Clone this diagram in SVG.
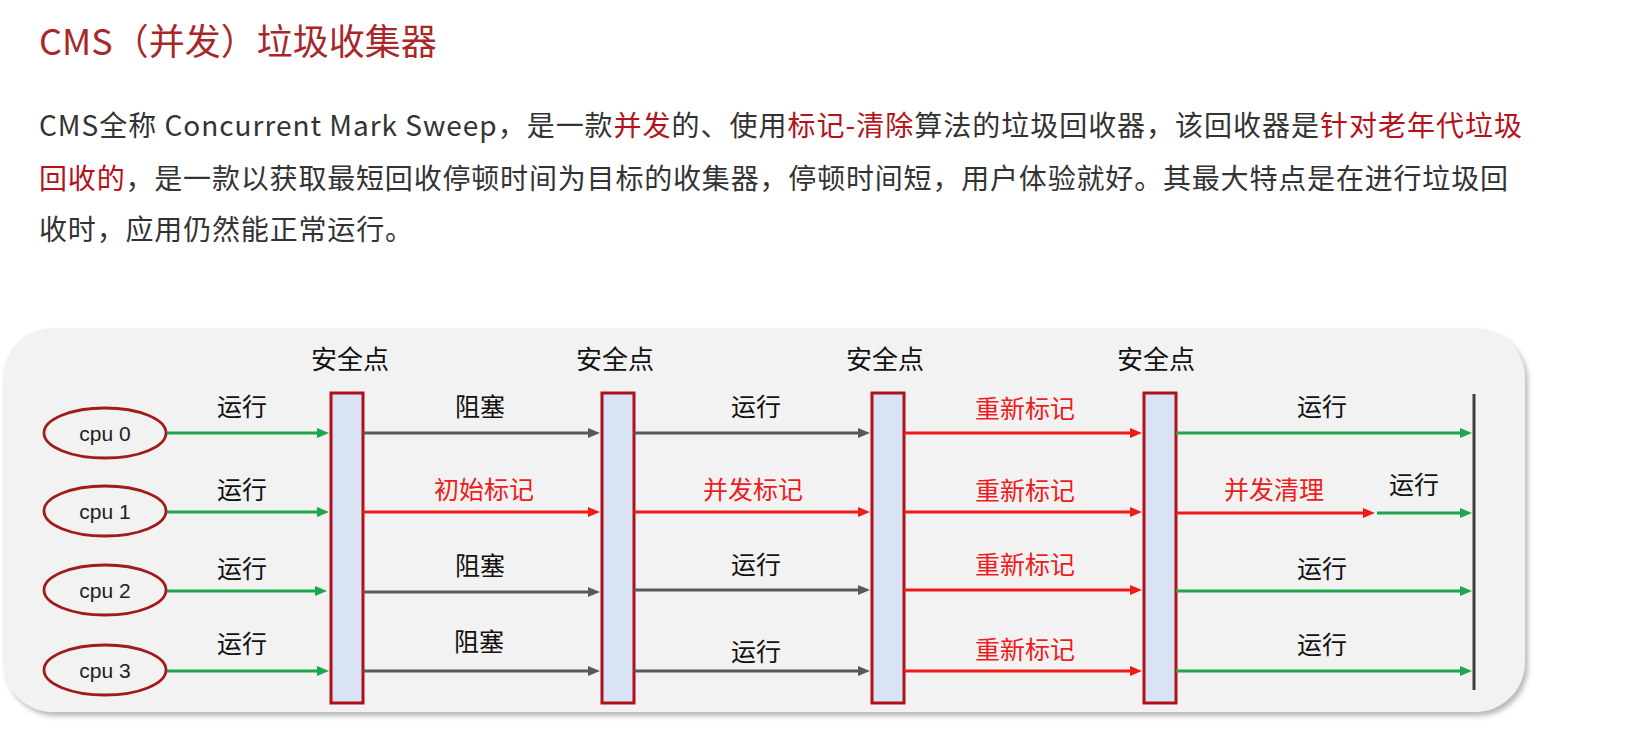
<svg xmlns="http://www.w3.org/2000/svg" width="1626" height="747" viewBox="0 0 1626 747">
<style>
.title{font-family:"Noto Sans CJK SC","Noto Sans",sans-serif;font-size:36px;fill:#a8282a}
.para{font-family:"Noto Sans CJK SC","Noto Sans",sans-serif;font-size:28px;fill:#333333}
.hl{fill:#b5121b}
.lbl{font-family:"Noto Sans CJK SC",sans-serif;font-size:25px;fill:#111111;text-anchor:middle}
.lbl.red{fill:#ee1c1c}
.sp{font-family:"Noto Sans CJK SC",sans-serif;font-size:26px;fill:#111111;text-anchor:middle}
.cpu ellipse{fill:#f2f2f2;stroke:#a11b1b;stroke-width:2.8}
.cpu text{font-family:"Liberation Sans",Arial,sans-serif;font-size:21px;fill:#222222;text-anchor:middle}
.bar{fill:#dae3f3;stroke:#b0101a;stroke-width:3}
.g{stroke:#1aa84b;stroke-width:3;fill:none;marker-end:url(#ag)}
.k{stroke:#595959;stroke-width:3;fill:none;marker-end:url(#ak)}
.r{stroke:#f01a1a;stroke-width:3;fill:none;marker-end:url(#ar)}
</style>
<defs>
<marker id="ag" viewBox="0 0 12 10" refX="2" refY="5" markerWidth="12" markerHeight="10" markerUnits="userSpaceOnUse" orient="auto"><path d="M0,0 L12,5 L0,10 z" fill="#1aa84b"/></marker>
<marker id="ak" viewBox="0 0 12 10" refX="2" refY="5" markerWidth="12" markerHeight="10" markerUnits="userSpaceOnUse" orient="auto"><path d="M0,0 L12,5 L0,10 z" fill="#595959"/></marker>
<marker id="ar" viewBox="0 0 12 10" refX="2" refY="5" markerWidth="12" markerHeight="10" markerUnits="userSpaceOnUse" orient="auto"><path d="M0,0 L12,5 L0,10 z" fill="#f01a1a"/></marker>
<filter id="sh" x="-5%" y="-5%" width="110%" height="115%"><feDropShadow dx="3" dy="4" stdDeviation="2.5" flood-color="#8a8a8a" flood-opacity="0.6"/></filter>
</defs>
<rect width="1626" height="747" fill="#ffffff"/>

<g id="heading">
<text class="title" x="39" y="55">CMS（并发）垃圾收集器</text>
</g>
<g id="paragraph">
<text class="para" x="39" y="136" textLength="1483" lengthAdjust="spacing">CMS全称 Concurrent Mark Sweep，是一款<tspan class="hl">并发</tspan>的、使用<tspan class="hl">标记-清除</tspan>算法的垃圾回收器，该回收器是<tspan class="hl">针对老年代垃圾</tspan></text>
<text class="para" x="39" y="189" textLength="1469" lengthAdjust="spacing"><tspan class="hl">回收的</tspan>，是一款以获取最短回收停顿时间为目标的收集器，停顿时间短，用户体验就好。其最大特点是在进行垃圾回</text>
<text class="para" x="39" y="240" textLength="374" lengthAdjust="spacing">收时，应用仍然能正常运行。</text>
</g>

<g id="panel">
<rect x="3" y="328" width="1522" height="384" rx="50" ry="50" fill="#f2f2f2" filter="url(#sh)"/>
</g>

<g id="cpu0" class="cpu"><ellipse cx="105" cy="433" rx="61" ry="25"/><text x="105" y="441">cpu 0</text></g>
<g id="cpu1" class="cpu"><ellipse cx="105" cy="511" rx="61" ry="25"/><text x="105" y="519">cpu 1</text></g>
<g id="cpu2" class="cpu"><ellipse cx="105" cy="590" rx="61" ry="25"/><text x="105" y="598">cpu 2</text></g>
<g id="cpu3" class="cpu"><ellipse cx="105" cy="670" rx="61" ry="25"/><text x="105" y="678">cpu 3</text></g>

<g id="safepoint1"><text class="sp" x="350" y="369">安全点</text><rect class="bar" x="331" y="393" width="32" height="310"/></g>
<g id="safepoint2"><text class="sp" x="615" y="369">安全点</text><rect class="bar" x="602" y="393" width="32" height="310"/></g>
<g id="safepoint3"><text class="sp" x="885" y="369">安全点</text><rect class="bar" x="872" y="393" width="32" height="310"/></g>
<g id="safepoint4"><text class="sp" x="1156" y="369">安全点</text><rect class="bar" x="1144" y="393" width="32" height="310"/></g>
<g id="end"><line x1="1474" y1="394" x2="1474" y2="690" stroke="#404040" stroke-width="3"/></g>

<g id="connectors">
<line class="g" x1="167" y1="433" x2="319" y2="433"/>
<line class="g" x1="167" y1="512" x2="319" y2="512"/>
<line class="g" x1="167" y1="591" x2="317" y2="591"/>
<line class="g" x1="167" y1="671" x2="319" y2="671"/>

<line class="k" x1="363" y1="433" x2="590" y2="433"/>
<line class="r" x1="363" y1="512" x2="590" y2="512"/>
<line class="k" x1="363" y1="592" x2="590" y2="592"/>
<line class="k" x1="363" y1="671" x2="590" y2="671"/>

<line class="k" x1="634" y1="433" x2="860" y2="433"/>
<line class="r" x1="634" y1="512" x2="860" y2="512"/>
<line class="k" x1="634" y1="590" x2="860" y2="590"/>
<line class="k" x1="634" y1="671" x2="860" y2="671"/>

<line class="r" x1="904" y1="433" x2="1132" y2="433"/>
<line class="r" x1="904" y1="512" x2="1132" y2="512"/>
<line class="r" x1="904" y1="590" x2="1132" y2="590"/>
<line class="r" x1="904" y1="671" x2="1132" y2="671"/>

<line class="g" x1="1176" y1="433" x2="1462" y2="433"/>
<line class="r" x1="1176" y1="513" x2="1365" y2="513"/>
<line class="g" x1="1377" y1="513" x2="1462" y2="513"/>
<line class="g" x1="1176" y1="591" x2="1462" y2="591"/>
<line class="g" x1="1176" y1="671" x2="1462" y2="671"/>
</g>

<g id="connector-labels">
<text class="lbl" x="242" y="416">运行</text>
<text class="lbl" x="242" y="499">运行</text>
<text class="lbl" x="242" y="578">运行</text>
<text class="lbl" x="242" y="653">运行</text>

<text class="lbl" x="480" y="416">阻塞</text>
<text class="lbl red" x="484" y="499">初始标记</text>
<text class="lbl" x="480" y="575">阻塞</text>
<text class="lbl" x="479" y="651">阻塞</text>

<text class="lbl" x="756" y="416">运行</text>
<text class="lbl red" x="753" y="499">并发标记</text>
<text class="lbl" x="756" y="574">运行</text>
<text class="lbl" x="756" y="661">运行</text>

<text class="lbl red" x="1025" y="418">重新标记</text>
<text class="lbl red" x="1025" y="500">重新标记</text>
<text class="lbl red" x="1025" y="574">重新标记</text>
<text class="lbl red" x="1025" y="659">重新标记</text>

<text class="lbl" x="1322" y="416">运行</text>
<text class="lbl red" x="1274" y="499">并发清理</text>
<text class="lbl" x="1414" y="494">运行</text>
<text class="lbl" x="1322" y="578">运行</text>
<text class="lbl" x="1322" y="654">运行</text>
</g>
</svg>
